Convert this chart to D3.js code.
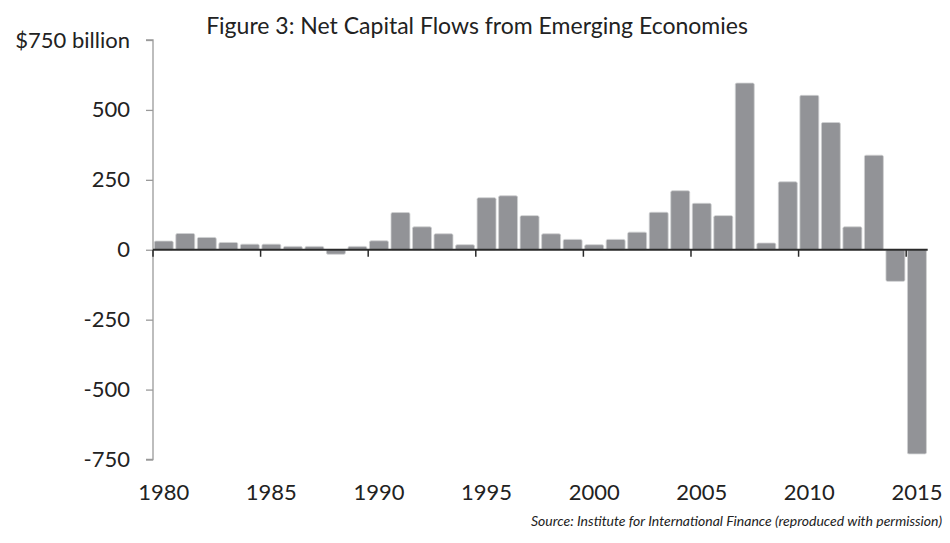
<!DOCTYPE html>
<html>
<head>
<meta charset="utf-8">
<script src="https://cdn.jsdelivr.net/npm/d3@7"></script>
<style>
  html, body { margin: 0; padding: 0; background: #fff; }
  svg { display: block; }
  text { font-family: Lato, "Open Sans", sans-serif; fill: #222; }
</style>
</head>
<body>
<svg id="chart" width="950" height="543"></svg>
<script>
const years = [1980,1981,1982,1983,1984,1985,1986,1987,1988,1989,
               1990,1991,1992,1993,1994,1995,1996,1997,1998,1999,
               2000,2001,2002,2003,2004,2005,2006,2007,2008,2009,
               2010,2011,2012,2013,2014,2015];
const netFlows = [31,58,44,26,20,20,12,12,-16,12,
                  32,133,82,57,18,186,193,122,57,37,
                  18,37,63,134,211,166,122,596,24,243,
                  552,455,82,338,-113,-730];
const yTicks = [750,500,250,0,-250,-500,-750];
const yTickLabels = ["$750 billion","500","250","0","-250","-500","-750"];
const xLabelYears = [1980,1985,1990,1995,2000,2005,2010,2015];
const titleText = "Figure 3: Net Capital Flows from Emerging Economies";
const sourceText = "Source: Institute for International Finance (reproduced with permission)";

(function () {
const svg = d3.select("#chart");
const plotLeft = 153, plotRight = 927.7, plotTop = 40, plotBottom = 459.5;

const x = d3.scaleBand().domain(years).range([plotLeft, plotRight]).paddingInner(0.12).paddingOuter(0.06);
const y = d3.scaleLinear().domain([-750, 750]).range([plotBottom, plotTop]);
const step = x.step();
const bandStart = d => x(d) - step * x.paddingInner() / 2;

// title
svg.append("text").attr("x", 477).attr("y", 34).attr("text-anchor", "middle")
  .style("font-size", "23px").text(titleText);

// bars
svg.append("g").selectAll("rect").data(years).join("rect")
  .attr("x", d => x(d))
  .attr("width", x.bandwidth())
  .attr("y", (d, i) => y(Math.max(0, netFlows[i])))
  .attr("height", (d, i) => Math.abs(y(netFlows[i]) - y(0)))
  .attr("rx", 1.5)
  .attr("fill", "#929397")
  .attr("stroke", "#cfd0d2")
  .attr("stroke-width", 0.8);

// y axis
const yAxis = d3.axisLeft(y).tickValues(yTicks).tickSize(7)
  .tickFormat((d, i) => yTickLabels[i]).tickPadding(16);
const gy = svg.append("g").attr("transform", `translate(${plotLeft},0)`).call(yAxis);
gy.select(".domain").attr("stroke", "#9a9a9a").attr("stroke-width", 1.3).attr("d", `M-7,${plotTop}H0V${plotBottom}H-7`);
gy.selectAll(".tick line").attr("stroke", "#9a9a9a").attr("stroke-width", 1.3);
gy.selectAll(".tick text").style("font-size", "22px").attr("fill", "#222")
  .style("font-family", "Lato, 'Open Sans', sans-serif");

// x axis at zero
const gx = svg.append("g");
gx.append("line").attr("x1", plotLeft).attr("x2", plotRight).attr("y1", y(0)).attr("y2", y(0))
  .attr("stroke", "#2a2a2a").attr("stroke-width", 1.8);
gx.selectAll("line.xt").data(xLabelYears).join("line").attr("class", "xt")
  .attr("x1", d => bandStart(d)).attr("x2", d => bandStart(d))
  .attr("y1", y(0)).attr("y2", y(0) + 7)
  .attr("stroke", "#2a2a2a").attr("stroke-width", 1.5);
svg.append("g").selectAll("text").data(xLabelYears).join("text")
  .attr("x", d => x(d) + x.bandwidth() / 2).attr("y", 500)
  .attr("text-anchor", "middle").style("font-size", "22px").text(d => d);

// source
svg.append("text").attr("x", 942).attr("y", 526).attr("text-anchor", "end")
  .style("font-size", "14px").style("font-style", "italic").text(sourceText);
})();
</script>
</body>
</html>
